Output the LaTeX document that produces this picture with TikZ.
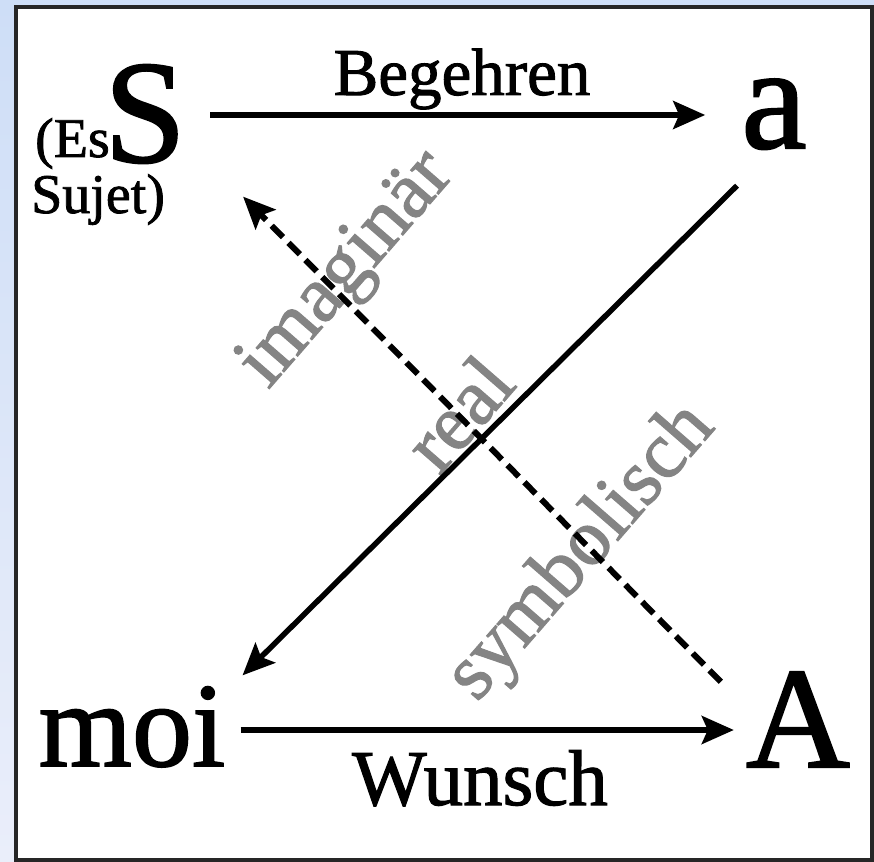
\documentclass[tikz,border=0pt]{standalone}
\usepackage{fontspec}
\setmainfont{Liberation Serif}[FakeBold=1.4]
\usetikzlibrary{arrows.meta,positioning}

\definecolor{frametop}{RGB}{206,222,247}
\definecolor{framebot}{RGB}{234,238,250}
\definecolor{regray}{RGB}{132,132,132}

\tikzset{
  pole/.style={inner sep=0pt, anchor=base},
  regist/.style={regray, inner sep=0pt, rotate=49, font=\fontsize{80}{80}\selectfont},
  vector/.style={line width=5.5pt, -{Stealth[length=32pt,width=28pt,inset=6pt]}},
}

\begin{document}
\begin{tikzpicture}[x=1pt,y=-1pt]
  % background and frame
  \useasboundingbox (0,0) rectangle (874,861);
  \shade[top color=frametop, bottom color=framebot] (0,0) rectangle (874,861);
  \draw[line width=3.5pt, draw=black!85, fill=white] (16,7) rectangle (872,860);

  % registers (under the arrows)
  \node[regist] (imag) at (348,271) {imaginär};
  \node[regist] (real) at (458,413) {real};
  \node[regist] (symb) at (582,553) {symbolisch};

  % the four corners of the schema
  \node[pole, font=\fontsize{147}{147}\selectfont] (subj) at (145,162) {S};
  \node[pole, anchor=base east, font=\fontsize{56}{56}\selectfont] (es) at (110,157) {(Es};
  \node[pole, anchor=base west, font=\fontsize{56}{56}\selectfont] (sujet) at (31,213) {Sujet)};
  \node[pole, font=\fontsize{147}{147}\selectfont] (obja) at (774,148) {a};
  \node[pole, font=\fontsize{120}{120}\selectfont] (ich) at (132,766) {moi};
  \node[pole, font=\fontsize{144}{144}\selectfont] (bigA) at (798,767) {A};

  % horizontal arrows and their labels
  \node[pole, font=\fontsize{67}{67}\selectfont] (begehren) at (462,95) {Begehren};
  \node[pole, font=\fontsize{79}{79}\selectfont] (wunsch) at (480,805) {Wunsch};
  \draw[vector] ([shift={(24,-47)}]subj.base east) -- ([shift={(-36,-33)}]obja.base west);
  \draw[vector] ([shift={(15,-36)}]ich.base east) -- ([shift={(-12,-37)}]bigA.base west);

  % diagonals
  \draw[vector] ([shift={(-37,36)}]obja.south) -- ([shift={(17,-11)}]ich.north east);
  \draw[vector, line width=6pt, dash pattern=on 16pt off 8pt]
    ([shift={(-25,10)}]bigA.north west) -- ([shift={(57,33)}]subj.south east);
\end{tikzpicture}
\end{document}
